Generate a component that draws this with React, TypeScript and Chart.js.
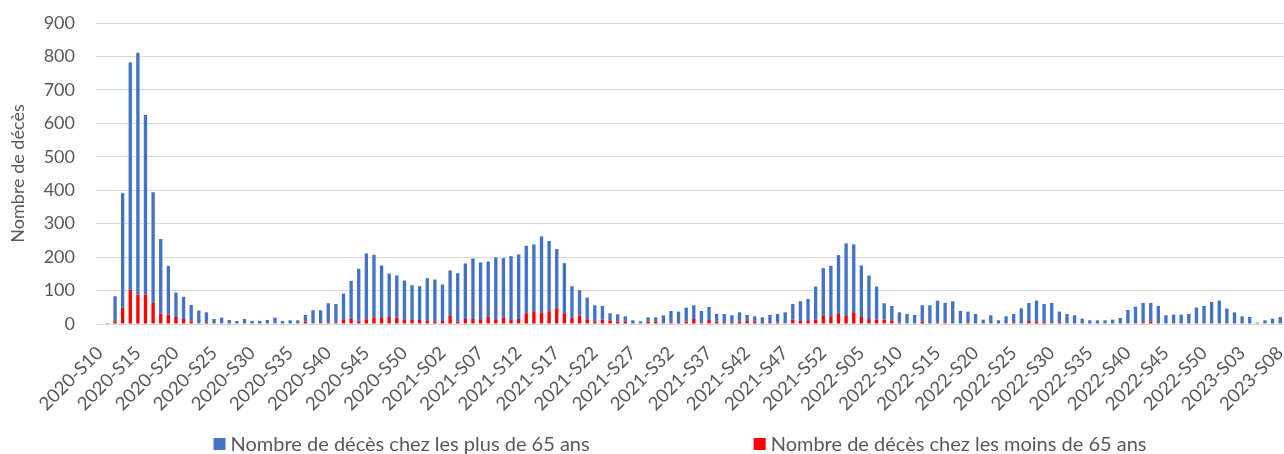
import { useEffect, useRef } from "react";
import { Chart, registerables } from "chart.js";

Chart.register(...registerables);

// Weeks shown: 2020-S10 … 2023-S08 (year, first week, last week)
const WEEK_RANGES: [number, number, number][] = [
  [2020, 10, 53],
  [2021, 1, 52],
  [2022, 1, 52],
  [2023, 1, 8],
];
const weeks: string[] = [];
for (const [y, a, b] of WEEK_RANGES) {
  for (let w = a; w <= b; w++) weeks.push(`${y}-S${String(w).padStart(2, "0")}`);
}

const over65: number[] = [
  0, 3, 75, 343, 680, 723, 537, 331, 223, 146,
  73, 66, 49, 40, 30, 15, 19, 9, 9, 15,
  9, 9, 12, 19, 9, 11, 11, 20, 41, 39,
  58, 56, 77, 114, 157, 197, 187, 157, 130, 126,
  116, 104, 101, 128, 126, 109, 136, 145, 166, 181,
  170, 166, 187, 177, 189, 193, 202, 200, 227, 210,
  177, 150, 95, 76, 65, 49, 41, 21, 22, 16,
  11, 8, 13, 13, 26, 36, 34, 42, 41, 35,
  39, 23, 25, 21, 28, 18, 16, 17, 24, 26,
  33, 47, 59, 66, 99, 143, 153, 176, 217, 203,
  154, 130, 99, 49, 45, 31, 30, 27, 49, 54,
  66, 59, 66, 39, 33, 30, 13, 26, 11, 21,
  26, 47, 54, 63, 55, 61, 32, 30, 26, 16,
  11, 11, 11, 13, 18, 40, 50, 58, 56, 54,
  26, 28, 28, 30, 49, 54, 64, 70, 44, 35,
  23, 21, 4, 11, 16, 21,
];

const under65: number[] = [
  0, 0, 8, 48, 102, 88, 88, 63, 31, 28,
  21, 15, 8, 0, 5, 0, 0, 3, 0, 0,
  0, 0, 0, 0, 0, 0, 0, 7, 0, 2,
  4, 4, 14, 15, 8, 14, 20, 18, 21, 19,
  14, 12, 12, 9, 7, 9, 24, 7, 15, 15,
  14, 21, 12, 20, 14, 15, 32, 38, 35, 38,
  47, 32, 18, 25, 14, 7, 13, 11, 7, 7,
  0, 0, 7, 7, 0, 3, 3, 7, 15, 4,
  12, 7, 5, 5, 7, 9, 7, 3, 3, 4,
  2, 13, 9, 9, 13, 24, 21, 30, 24, 35,
  21, 15, 13, 13, 9, 4, 0, 0, 7, 2,
  4, 4, 2, 0, 4, 0, 0, 0, 0, 2,
  4, 0, 9, 7, 5, 2, 5, 0, 0, 0,
  0, 0, 0, 0, 0, 2, 2, 5, 7, 0,
  0, 0, 0, 0, 0, 0, 2, 0, 2, 0,
  0, 0, 0, 0, 0, 0,
];

const SERIES_OVER = "Nombre de décès chez les plus de 65 ans";
const SERIES_UNDER = "Nombre de décès chez les moins de 65 ans";
const COLOR_OVER = "#4472C4";
const COLOR_UNDER = "#FF0000";
const Y_TITLE = "Nombre de décès";
const Y_MAX = 900;
const Y_STEP = 100;
const LABEL_EVERY = 5;

const FONT = "Lato";
const TEXT_COLOR = "#595959";
const GRID_COLOR = "#D9D9D9";

const bottomLegend = {
  id: "bottomLegend",
  afterDraw(chart: any) {
    const ctx = chart.ctx;
    const items = [
      { text: SERIES_OVER, color: COLOR_OVER },
      { text: SERIES_UNDER, color: COLOR_UNDER },
    ];
    ctx.save();
    ctx.font = `20px ${FONT}`;
    ctx.textBaseline = "middle";
    const box = 12;
    const boxGap = 5;
    const itemGap = 164;
    const widths = items.map((it) => box + boxGap + ctx.measureText(it.text).width);
    const total = widths[0] + widths[1] + itemGap;
    const cx = (chart.chartArea.left + chart.chartArea.right) / 2 - 10;
    let x = cx - total / 2;
    const y = chart.height - 10;
    items.forEach((it, i) => {
      ctx.fillStyle = it.color;
      ctx.fillRect(x, y - box / 2, box, box);
      ctx.fillStyle = TEXT_COLOR;
      ctx.fillText(it.text, x + box + boxGap, y + 1);
      x += widths[i] + itemGap;
    });
    ctx.restore();
  },
};

export default function App() {
  const ref = useRef<HTMLCanvasElement>(null);

  useEffect(() => {
    document.body.style.margin = "0";
    const canvas = ref.current;
    if (!canvas) return;
    const chart = new Chart(canvas, {
      type: "bar",
      data: {
        labels: weeks,
        datasets: [
          {
            label: SERIES_UNDER,
            data: under65,
            backgroundColor: COLOR_UNDER,
            barPercentage: 0.44,
            categoryPercentage: 1,
          },
          {
            label: SERIES_OVER,
            data: over65,
            backgroundColor: COLOR_OVER,
            barPercentage: 0.44,
            categoryPercentage: 1,
          },
        ],
      },
      options: {
        animation: false,
        responsive: false,
        devicePixelRatio: 1,
        layout: { padding: { top: 23, right: 0, bottom: 30, left: 0 } },
        plugins: {
          legend: { display: false },
          tooltip: { enabled: false },
        },
        scales: {
          x: {
            stacked: true,
            grid: { display: false, drawTicks: false },
            border: { display: true, color: GRID_COLOR, width: 1 },
            ticks: {
              autoSkip: false,
              minRotation: 45,
              maxRotation: 45,
              padding: 18,
              color: TEXT_COLOR,
              font: { family: FONT, size: 18.5 },
              callback: (_v: any, i: number) => (i % LABEL_EVERY === 0 ? weeks[i] : ""),
            },
            afterFit: (s: any) => {
              s.height = 100;
              s.paddingRight = 0;
            },
          },
          y: {
            stacked: true,
            min: 0,
            max: Y_MAX,
            grid: { color: GRID_COLOR, drawTicks: false, lineWidth: 1 },
            border: { display: false },
            ticks: {
              stepSize: Y_STEP,
              padding: 21,
              color: TEXT_COLOR,
              font: { family: FONT, size: 18 },
            },
            title: {
              display: true,
              text: Y_TITLE,
              color: TEXT_COLOR,
              font: { family: FONT, size: 18 },
              padding: { top: 7, bottom: 0 },
            },
            afterFit: (s: any) => {
              s.width = 96;
              s.paddingTop = 0;
              s.paddingBottom = 0;
            },
          },
        },
      },
      plugins: [bottomLegend],
    });
    return () => chart.destroy();
  }, []);

  return (
    <div style={{ width: 1284, height: 454 }}>
      <canvas ref={ref} width={1284} height={454} />
    </div>
  );
}
